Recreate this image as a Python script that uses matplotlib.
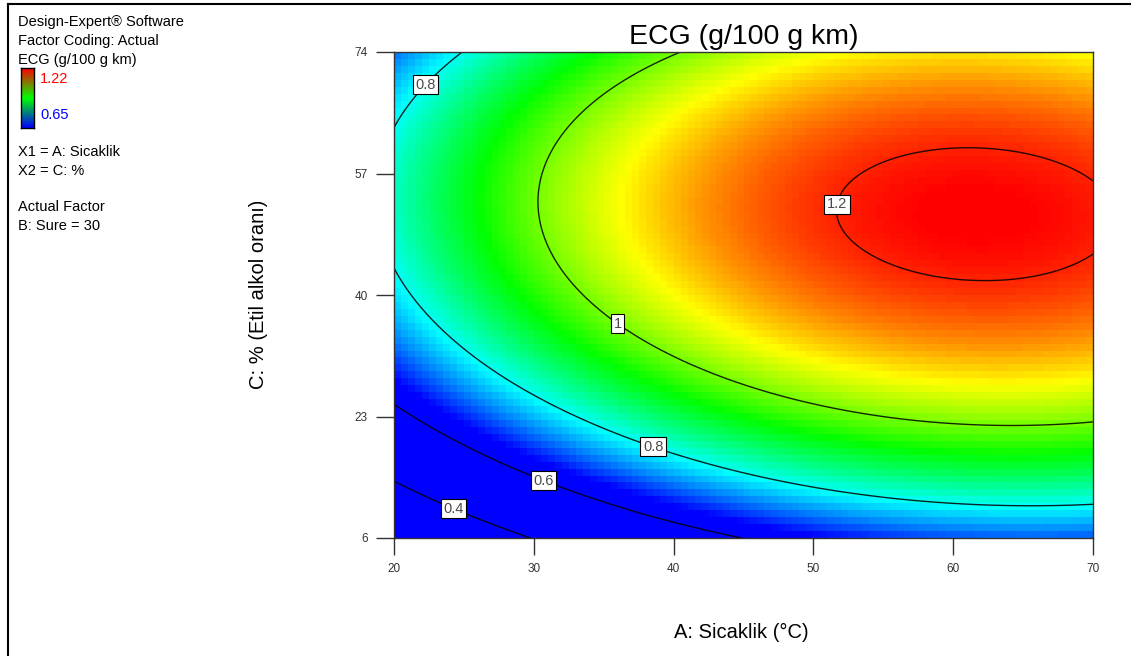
import numpy as np
import matplotlib
matplotlib.use("Agg")
import matplotlib.pyplot as plt
from matplotlib.colors import LinearSegmentedColormap, Normalize
from matplotlib.lines import Line2D

plt.rcParams["font.family"] = ["Liberation Sans", "DejaVu Sans"]

# Factor ranges (A: Sicaklik, C: % Etil alkol orani), B: Sure held at 30
a_range = [20, 70]
c_range = [6, 74]
x_ticks = [20, 30, 40, 50, 60, 70]
y_ticks = [6, 23, 40, 57, 74]

# Response-surface model coefficients for ECG (g/100 g km)
peak_ecg = 1.222
peak_a = 61.6
curv_a = 2.2e-4
cubic_a = 2.1e-7
curv_c_at_20 = 2.71e-4
curv_c_slope = -3.7e-7
ridge_c_at_20 = 53.6
ridge_slope = -0.055

# Colour scale limits and contour levels
color_min = 0.65
color_max = 1.22
levels = [0.4, 0.6, 0.8, 1.0, 1.2]
label_spots = [(21.9, 70.1), (50.9, 53.0), (36.2, 36.5), (38.7, 19.7), (30.8, 14.6), (24.3, 10.3)]


def ecg(a, c):
    u = a - peak_a
    ridge = ridge_c_at_20 + ridge_slope * (a - 20)
    curv_c = curv_c_at_20 + curv_c_slope * (a - 20)
    return peak_ecg - curv_a * u**2 + cubic_a * u**3 - curv_c * (c - ridge) ** 2


fig = plt.figure(figsize=(11.31, 6.56), dpi=100)
ax = fig.add_axes([394 / 1131, 1 - 538 / 656, 699 / 1131, 486 / 656])

cmap = LinearSegmentedColormap.from_list(
    "de", ["#0000ff", "#00ffff", "#00ff00", "#ffff00", "#ff0000"])
norm = Normalize(vmin=color_min, vmax=color_max, clip=True)

# coarse colour grid
nx, ny = 100, 70
xe = np.linspace(a_range[0], a_range[1], nx + 1)
ye = np.linspace(c_range[0], c_range[1], ny + 1)
xc = 0.5 * (xe[:-1] + xe[1:])
yc = 0.5 * (ye[:-1] + ye[1:])
Xc, Yc = np.meshgrid(xc, yc)
ax.pcolormesh(xe, ye, ecg(Xc, Yc), cmap=cmap, norm=norm, shading="flat")

# fine grid for contour lines
xf = np.linspace(a_range[0], a_range[1], 400)
yf = np.linspace(c_range[0], c_range[1], 400)
Xf, Yf = np.meshgrid(xf, yf)
cs = ax.contour(Xf, Yf, ecg(Xf, Yf), levels=levels, colors="black",
                linewidths=1.0, alpha=0.85)
texts = ax.clabel(cs, levels, manual=label_spots, inline=False,
                  fmt=lambda v: f"{v:g}", fontsize=10.5, colors="#2a2a2a")
for t in texts:
    t.set_rotation(0)
    t.set_bbox(dict(facecolor="white", edgecolor="black", linewidth=0.8, pad=1.8))
    t.set_zorder(5)

ax.set_xlim(a_range)
ax.set_ylim(c_range)
ax.set_xticks(x_ticks)
ax.set_yticks(y_ticks)
ax.tick_params(axis="both", labelsize=8.5, labelcolor="#333333", color="#333333",
               width=1.0, direction="out")
ax.tick_params(axis="x", length=12, pad=6)
ax.tick_params(axis="y", length=13, pad=6)
for sp in ax.spines.values():
    sp.set_color("#333333")
    sp.set_linewidth(1.0)

ax.set_title("ECG (g/100 g km)", fontsize=20.5, pad=6)
fig.text(741 / 1131, 1 - 632 / 656, "A: Sicaklik (°C)", fontsize=14.5,
         ha="center", va="center")
fig.text(258 / 1131, 1 - 294 / 656, "C: % (Etil alkol oranı)", fontsize=14.5,
         ha="center", va="center", rotation=90)

# information panel on the left
info_size = 10.5
left = 18 / 1131
for y, s in [(22, "Design-Expert® Software"), (41, "Factor Coding: Actual"),
             (60, "ECG (g/100 g km)"), (152, "X1 = A: Sicaklik"),
             (171, "X2 = C: %"), (207, "Actual Factor"), (226, "B: Sure = 30")]:
    fig.text(left, 1 - y / 656, s, fontsize=info_size, ha="left", va="center")

legend_ax = fig.add_axes([21 / 1131, 1 - 128 / 656, 13 / 1131, 60 / 656])
legend_cmap = LinearSegmentedColormap.from_list("leg", ["#0000ff", "#00ff00", "#ff0000"])
legend_ax.imshow(np.linspace(0, 1, 100)[:, None], cmap=legend_cmap, aspect="auto",
                 origin="lower", extent=[0, 1, 0, 1])
legend_ax.set_xticks([])
legend_ax.set_yticks([])
for sp in legend_ax.spines.values():
    sp.set_color("black")
    sp.set_linewidth(1.0)
fig.text(40 / 1131, 1 - 79 / 656, f"{color_max:.2f}", fontsize=info_size,
         color="#ff0000", ha="left", va="center")
fig.text(40 / 1131, 1 - 115 / 656, f"{color_min:.2f}", fontsize=info_size,
         color="#0000ff", ha="left", va="center")

# outer frame lines
fig.add_artist(Line2D([7.5 / 1131, 7.5 / 1131], [0, 1 - 4 / 656],
                      transform=fig.transFigure, color="black", lw=1.5))
fig.add_artist(Line2D([7.5 / 1131, 1], [1 - 4 / 656, 1 - 4 / 656],
                      transform=fig.transFigure, color="black", lw=1.5))

fig.savefig("out.png", dpi=100, facecolor="white")
